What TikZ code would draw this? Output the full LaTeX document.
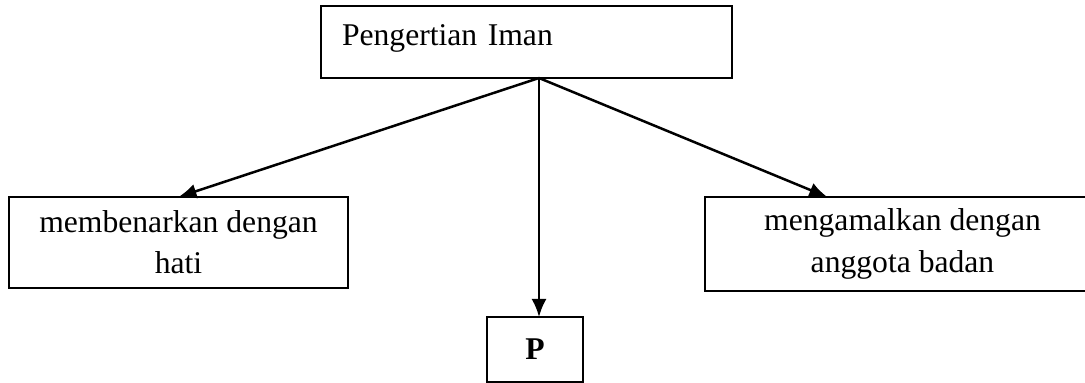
\documentclass[tikz,border=0pt]{standalone}
\usepackage{fontspec}
\setmainfont{Liberation Serif}
\usetikzlibrary{arrows.meta}

\begin{document}
\begin{tikzpicture}
\useasboundingbox (0,0) rectangle (21.7,-7.66);

\begin{scope}[every node/.style={rectangle,draw,line width=0.05cm,anchor=north west,inner sep=0pt,outer sep=0pt,font=\fontsize{18}{23.5}\selectfont}]
	%Top box
	\node[minimum height=1.44cm,text width=7.38cm,inner xsep=0.42cm,align=left,text height=0.44cm,text depth=0.28cm] (iman) at (6.42, -0.12) {Pengertian Iman};
	
	%Left box
	\node[minimum width=6.78cm,minimum height=1.82cm,align=center] (hati) at (0.18, -3.94) {membenarkan dengan\\hati};
	
	%Right box
	\node[minimum width=7.9cm,minimum height=1.88cm,align=center] (badan) at (14.1, -3.94) {mengamalkan dengan\\anggota badan};
	
	%Bottom box
	\node[minimum width=1.92cm,minimum height=1.3cm] (p) at (9.74, -6.34) {\textbf{P}};
\end{scope}

\coordinate (apex) at (10.78, -1.56);

\begin{scope}[line width=0.05cm,>={Latex[length=0.36cm,width=0.3cm]}]
	\path [->] (apex) edge node {} (hati.north);
	\path [->] (apex) edge node {} (apex |- p.north);
	\path [->] (apex) edge node {} (badan.148);
\end{scope}

\end{tikzpicture}
\end{document}
